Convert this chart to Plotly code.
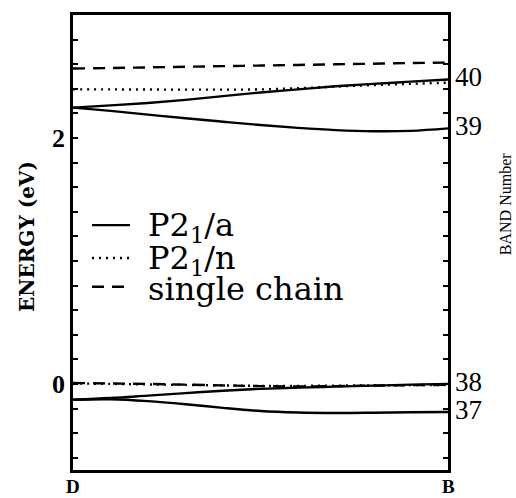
import plotly.graph_objects as go

# k-path fraction from D (0) to B (1)
k = [0.0, 0.1, 0.2, 0.3, 0.4, 0.5, 0.6, 0.7, 0.8, 0.9, 1.0]

# P2_1/a bands (solid)
a_band40 = [2.247, 2.265, 2.285, 2.310, 2.340, 2.370, 2.395, 2.420, 2.440, 2.458, 2.476]
a_band39 = [2.247, 2.220, 2.190, 2.160, 2.132, 2.105, 2.082, 2.064, 2.055, 2.058, 2.078]
a_band38 = [-0.129, -0.115, -0.095, -0.075, -0.055, -0.040, -0.030, -0.022, -0.014, -0.006, 0.000]
a_band37 = [-0.129, -0.125, -0.140, -0.165, -0.195, -0.220, -0.232, -0.236, -0.234, -0.230, -0.228]

# P2_1/n bands (dotted)
n_upper = [2.395, 2.395, 2.394, 2.393, 2.393, 2.395, 2.405, 2.418, 2.430, 2.440, 2.450]
n_lower = [0.004, 0.000, -0.004, -0.008, -0.012, -0.016, -0.016, -0.014, -0.012, -0.010, -0.008]

# single chain bands (dashed)
s_upper = [2.565, 2.569, 2.574, 2.579, 2.584, 2.589, 2.594, 2.599, 2.604, 2.609, 2.613]
s_lower = [0.008, 0.004, 0.000, -0.006, -0.012, -0.018, -0.020, -0.018, -0.014, -0.010, -0.008]

band_labels = ["40", "39", "38", "37"]
x_tick_labels = ["D", "B"]
y_tick_vals = [0, 2]
y_tick_text = ["0", "2"]

legend_names = ["P2<sub>1</sub>/a", "P2<sub>1</sub>/n", "single chain"]

fig = go.Figure()
LW = 2.4
for ys in [a_band40, a_band39, a_band38, a_band37]:
    fig.add_trace(go.Scatter(x=k, y=ys, mode="lines", line=dict(color="black", width=LW, shape="spline"),
                             showlegend=False, hoverinfo="skip"))
for ys in [n_upper, n_lower]:
    fig.add_trace(go.Scatter(x=k, y=ys, mode="lines", line=dict(color="black", width=LW, dash="2px,5px", shape="spline"),
                             showlegend=False, hoverinfo="skip"))
for ys in [s_upper, s_lower]:
    fig.add_trace(go.Scatter(x=k, y=ys, mode="lines", line=dict(color="black", width=LW, dash="12px,8px", shape="spline"),
                             showlegend=False, hoverinfo="skip"))

# band number labels at the B end
for lab, ys in zip(band_labels, [a_band40, a_band39, a_band38, a_band37]):
    fig.add_annotation(x=1, y=ys[-1], xref="x", yref="y", text=lab, showarrow=False,
                       xanchor="left", yanchor="middle", xshift=5, yshift=2,
                       font=dict(family="Liberation Serif", size=27, color="black"))

# x-axis labels D and B
for xv, lab in zip([0, 1], x_tick_labels):
    fig.add_annotation(x=xv, y=0, xref="x", yref="paper", text=lab, showarrow=False,
                       xanchor="center", yanchor="top", yshift=-4,
                       font=dict(family="Liberation Serif", size=19, color="black", weight="bold"))

# custom legend (drawn in paper coordinates)
W, H, L, T = 375.0, 457.0, 73.0, 13.0
def px(xp):
    return (xp - L) / W
def py(yp):
    return (T + H - yp) / H

leg_rows = [(224, "solid"), (257, "2px,5px"), (286, "12px,8px")]
for (yrow, dash), name in zip(leg_rows, legend_names):
    fig.add_shape(type="line", xref="paper", yref="paper", x0=px(92), x1=px(130), y0=py(yrow), y1=py(yrow),
                  line=dict(color="black", width=LW, dash=dash))
    fig.add_annotation(x=px(146), y=py(yrow + 2), xref="paper", yref="paper", text=name, showarrow=False,
                       xanchor="left", yanchor="middle",
                       font=dict(family="DejaVu Serif", size=32, color="black"))

# axis titles
fig.add_annotation(x=px(27), y=py(236), xref="paper", yref="paper", text="ENERGY (eV)", showarrow=False,
                   textangle=-90, xanchor="center", yanchor="middle",
                   font=dict(family="DejaVu Serif", size=20, color="black", weight="bold"))
fig.add_annotation(x=px(505), y=py(203), xref="paper", yref="paper", text="BAND Number", showarrow=False,
                   textangle=-90, xanchor="center", yanchor="middle",
                   font=dict(family="Liberation Serif", size=16, color="black"))

fig.update_xaxes(range=[0, 1], showgrid=False, zeroline=False, showticklabels=False, ticks="",
                 showline=True, linecolor="black", linewidth=2.5, mirror=True)
fig.update_yaxes(range=[-0.7, 3.0], showgrid=False, zeroline=False,
                 tickmode="array", tickvals=y_tick_vals, ticktext=y_tick_text,
                 ticks="inside", ticklen=5, tickwidth=2, tickcolor="black",
                 minor=dict(dtick=0.2, tick0=0, ticks="inside", ticklen=5, tickwidth=2, tickcolor="black", showgrid=False),
                 tickfont=dict(family="Liberation Serif", size=26, color="black", weight="bold"),
                 showline=True, linecolor="black", linewidth=2.5, mirror="allticks")

fig.update_layout(width=516, height=498, margin=dict(l=73, r=68, t=13, b=28),
                  plot_bgcolor="white", paper_bgcolor="white", showlegend=False)

fig.write_html("out.html")
